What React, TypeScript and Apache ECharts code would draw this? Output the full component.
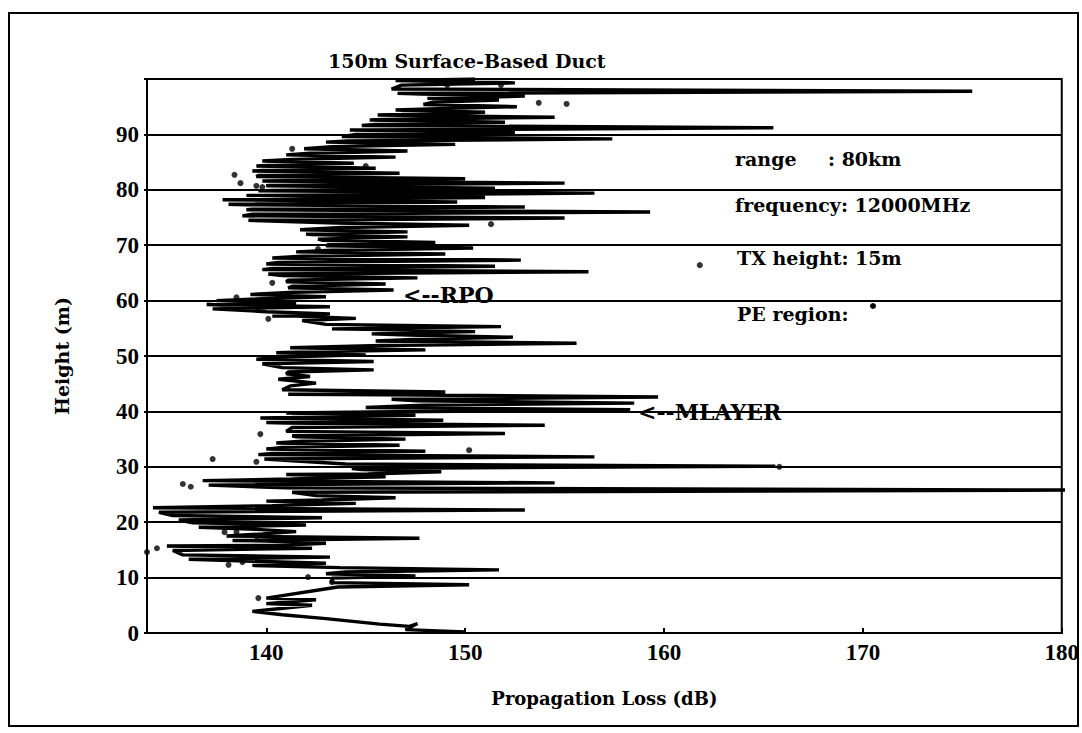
import React, { useEffect, useRef } from "react";
import * as echarts from "echarts";

// Propagation loss curve (dB) vs height (m), read top to bottom.
// Each row: base, tip, base of one needle-like null.
const curveLoss = [
  150.5,
  146.5, 152.5, 146.8,
  146.3, 175.5, 146.6,
  147.8, 153.0, 148.1,
  148.1, 151.7, 148.4,
  147.9, 152.6, 148.2,
  146.5, 151.0, 146.8,
  145.6, 154.5, 145.9,
  145.2, 152.0, 145.5,
  144.8, 165.5, 145.1,
  144.2, 152.5, 144.5,
  143.8, 157.4, 144.1,
  143.0, 149.5, 143.3,
  141.9, 147.1, 142.2,
  141.0, 146.5, 141.3,
  139.8, 144.4, 140.1,
  139.5, 145.5, 139.8,
  139.3, 146.7, 139.6,
  139.5, 150.0, 139.8,
  139.8, 155.0, 140.1,
  140.0, 151.5, 140.3,
  139.6, 156.5, 139.9,
  139.0, 151.0, 139.3,
  137.8, 149.6, 138.1,
  139.0, 153.0, 139.3,
  139.0, 159.3, 139.3,
  138.8, 155.0, 139.1,
  143.5, 150.2, 143.8,
  141.7, 147.1, 142.0,
  142.3, 147.1, 142.6,
  142.8, 148.5, 143.1,
  143.0, 150.4, 143.3,
  141.5, 149.0, 141.8,
  140.3, 152.8, 140.6,
  140.0, 151.5, 140.3,
  139.8, 156.2, 140.1,
  140.8, 147.6, 141.1,
  141.0, 146.0, 141.3,
  141.1, 146.4, 141.4,
  139.2, 143.0, 139.5,
  137.5, 141.5, 137.8,
  137.0, 143.2, 137.3,
  140.0, 143.2, 140.3,
  141.5, 144.5, 141.8,
  143.0, 151.8, 143.3,
  145.0, 150.5, 145.3,
  147.1, 152.4, 147.4,
  145.5, 155.6, 145.8,
  141.2, 148.0, 141.5,
  140.5, 145.0, 140.8,
  139.5, 145.4, 139.8,
  140.8, 145.4, 141.1,
  141.0, 142.2, 140.6, 142.5, 141.2,
  140.8, 149.0, 141.1,
  146.0, 159.7, 146.3,
  147.6, 158.5, 147.9,
  145.0, 158.3, 145.3,
  141.0, 147.5, 141.3,
  139.7, 148.9, 140.0,
  141.0, 154.0, 141.3,
  141.0, 152.0, 141.3,
  141.5, 147.0, 141.8,
  140.5, 146.7, 140.8,
  140.0, 148.0, 140.3,
  139.6, 156.5, 139.9,
  144.0, 165.6, 144.3,
  144.8, 148.8, 145.1,
  141.0, 146.0, 141.3,
  136.8, 154.5, 137.1,
  141.0, 182.0, 141.3,
  142.5, 146.5, 142.8,
  140.0, 144.5, 140.3,
  134.3, 153.0, 134.6,
  135.3, 142.8, 135.6,
  136.3, 142.0, 136.6,
  139.5, 141.5, 139.8,
  138.0, 147.7, 138.3,
  140.0, 143.0, 140.3,
  135.0, 142.3, 135.3,
  135.8, 143.2, 136.1,
  139.0, 143.0, 139.3,
  143.7, 151.7, 144.0,
  143.0, 147.5, 143.3,
  143.3, 150.2, 143.6,
  140.0, 142.5, 140.0, 142.3, 139.3, 140.8,
  143.0, 145.7, 147.2, 147.6, 147.0, 150.0,
];
const curveHeight = [
  100.0,
  99.7, 99.3, 98.9,
  98.2, 97.8, 97.4,
  97.3, 96.9, 96.5,
  96.6, 96.2, 95.8,
  95.4, 95.0, 94.6,
  94.4, 94.0, 93.6,
  93.5, 93.1, 92.7,
  92.6, 92.2, 91.8,
  91.6, 91.2, 90.8,
  90.8, 90.4, 90.0,
  89.6, 89.2, 88.8,
  88.6, 88.2, 87.8,
  87.4, 87.0, 86.6,
  86.3, 85.9, 85.5,
  85.2, 84.8, 84.4,
  84.3, 83.9, 83.5,
  83.4, 83.0, 82.6,
  82.4, 82.0, 81.6,
  81.6, 81.2, 80.8,
  80.7, 80.3, 79.9,
  79.8, 79.4, 79.0,
  79.0, 78.6, 78.2,
  78.2, 77.8, 77.4,
  77.3, 76.9, 76.5,
  76.4, 76.0, 75.6,
  75.3, 74.9, 74.5,
  74.0, 73.6, 73.2,
  72.8, 72.4, 72.0,
  71.9, 71.5, 71.1,
  70.9, 70.5, 70.1,
  69.9, 69.5, 69.1,
  68.8, 68.4, 68.0,
  67.7, 67.3, 66.9,
  66.6, 66.2, 65.8,
  65.6, 65.2, 64.8,
  64.5, 64.1, 63.7,
  63.4, 63.0, 62.6,
  62.3, 61.9, 61.5,
  61.1, 60.7, 60.3,
  60.0, 59.6, 59.2,
  59.3, 58.9, 58.5,
  58.0, 57.6, 57.2,
  57.2, 56.8, 56.4,
  55.7, 55.3, 54.9,
  54.8, 54.4, 54.0,
  53.8, 53.4, 53.0,
  52.7, 52.3, 51.9,
  51.5, 51.1, 50.7,
  50.6, 50.2, 49.8,
  49.4, 49.0, 48.6,
  47.9, 47.5, 47.1,
  46.8, 46.3, 45.8, 45.1, 44.6,
  43.9, 43.5, 43.1,
  43.0, 42.6, 42.2,
  41.9, 41.5, 41.1,
  40.7, 40.3, 39.9,
  39.7, 39.3, 38.9,
  38.8, 38.4, 38.0,
  37.9, 37.5, 37.1,
  36.4, 36.0, 35.6,
  35.4, 35.0, 34.6,
  34.3, 33.9, 33.5,
  33.2, 32.8, 32.4,
  32.2, 31.8, 31.4,
  30.5, 30.1, 29.7,
  29.5, 29.1, 28.7,
  28.6, 28.2, 27.8,
  27.5, 27.1, 26.7,
  26.2, 25.8, 25.4,
  24.8, 24.4, 24.0,
  23.8, 23.4, 23.0,
  22.6, 22.2, 21.8,
  21.2, 20.8, 20.4,
  19.9, 19.5, 19.1,
  18.7, 18.3, 17.9,
  17.5, 17.1, 16.7,
  16.6, 16.2, 15.8,
  15.7, 15.3, 14.9,
  14.1, 13.7, 13.3,
  13.0, 12.6, 12.2,
  11.8, 11.4, 11.0,
  10.7, 10.3, 9.9,
  9.1, 8.7, 8.3,
  6.3, 6.0, 5.3, 5.0, 3.9, 3.3,
  2.6, 1.6, 1.2, 1.7, 0.6, 0.2,
];

// PE region points
const dotLoss = [
  149.1, 151.8, 153.7, 155.1, 141.3, 145.0, 138.4, 138.7, 139.5, 139.8,
  151.3, 142.6, 161.8, 140.3, 138.5, 140.1, 139.7, 150.2, 137.3, 139.5,
  165.8, 135.8, 136.2, 137.9, 138.5, 139.5, 140.8, 134.0, 134.5, 138.1,
  138.8, 142.1, 143.3, 139.6,
];
const dotHeight = [
  98.9, 98.9, 95.7, 95.5, 87.4, 84.3, 82.7, 81.2, 80.7, 80.5,
  73.8, 69.3, 66.4, 63.2, 60.6, 56.7, 35.9, 33.0, 31.4, 30.9,
  30.0, 26.9, 26.4, 18.2, 18.2, 17.5, 17.0, 14.6, 15.3, 12.3,
  12.8, 10.1, 9.2, 6.3,
];

const xTicks = [140, 150, 160, 170, 180];

const titleText = "150m Surface-Based Duct";
const xName = "Propagation Loss (dB)";
const yName = "Height (m)";

export default function App() {
  const ref = useRef<HTMLDivElement>(null);
  useEffect(() => {
    if (!ref.current) return;
    const chart = echarts.init(ref.current, null, { renderer: "svg" });
    const tickFont = "'Liberation Serif', 'Times New Roman', serif";
    const textFont = "'DejaVu Serif', serif";
    const curve = curveLoss.map((v, i) => [v, curveHeight[i]]);
    const dots = dotLoss.map((v, i) => [v, dotHeight[i]]);
    chart.setOption({
      animation: false,
      backgroundColor: "#ffffff",
      title: {
        text: titleText,
        left: 323,
        top: 46,
        textStyle: { fontFamily: textFont, fontWeight: "bold", fontSize: 19, color: "#000" },
      },
      grid: {
        left: 147,
        top: 79,
        right: 19,
        bottom: 100,
        show: true,
        borderColor: "#000",
        borderWidth: 2,
      },
      xAxis: {
        type: "value",
        min: 134,
        max: 180,
        axisLine: { show: true, onZero: false, lineStyle: { color: "#000", width: 2 } },
        axisTick: { show: true, inside: true, length: 5, customValues: xTicks, lineStyle: { color: "#000", width: 2 } },
        axisLabel: {
          customValues: xTicks,
          color: "#000",
          fontFamily: tickFont,
          fontWeight: "bold",
          fontSize: 23,
          margin: 8,
        },
        splitLine: { show: false },
        name: xName,
        nameLocation: "middle",
        nameGap: 56,
        nameTextStyle: { fontFamily: textFont, fontWeight: "bold", fontSize: 18, color: "#000" },
      },
      yAxis: {
        type: "value",
        min: 0,
        max: 100,
        interval: 10,
        axisLine: { show: true, lineStyle: { color: "#000", width: 2 } },
        axisTick: { show: true, length: 3, lineStyle: { color: "#000", width: 2 } },
        axisLabel: {
          color: "#000",
          fontFamily: tickFont,
          fontWeight: "bold",
          fontSize: 23,
          margin: 8,
          formatter: (v: number) => (v === 100 ? "" : String(v)),
        },
        splitLine: { show: true, lineStyle: { color: "#000", width: 2 } },
        name: yName,
        nameLocation: "middle",
        nameGap: 76,
        nameTextStyle: { fontFamily: textFont, fontWeight: "bold", fontSize: 19, color: "#000" },
      },
      series: [
        {
          type: "line",
          data: curve,
          showSymbol: false,
          clip: true,
          lineStyle: { color: "#000", width: 3.4 },
        },
        {
          type: "scatter",
          data: dots,
          symbolSize: 6,
          itemStyle: { color: "#000" },
          clip: false,
        },
      ],
      graphic: [
        {
          type: "rect",
          silent: true,
          shape: { x: 9, y: 13, width: 1069, height: 713 },
          style: { fill: "none", stroke: "#000", lineWidth: 2 },
        },
        { type: "text", x: 735, y: 159, style: { text: "range", font: `bold 19px ${textFont}`, fill: "#000", verticalAlign: "middle" } },
        { type: "text", x: 828, y: 159, style: { text: ": 80km", font: `bold 19px ${textFont}`, fill: "#000", verticalAlign: "middle" } },
        { type: "text", x: 735, y: 205, style: { text: "frequency: 12000MHz", font: `bold 19px ${textFont}`, fill: "#000", verticalAlign: "middle" } },
        { type: "text", x: 737, y: 258, style: { text: "TX height: 15m", font: `bold 19px ${textFont}`, fill: "#000", verticalAlign: "middle" } },
        { type: "text", x: 737, y: 314, style: { text: "PE region:", font: `bold 19px ${textFont}`, fill: "#000", verticalAlign: "middle" } },
        { type: "circle", shape: { cx: 873, cy: 306, r: 3 }, style: { fill: "#000" } },
        { type: "text", x: 403, y: 295, style: { text: "<--RPO", font: `bold 22px ${textFont}`, fill: "#000", verticalAlign: "middle" } },
        { type: "text", x: 638, y: 412, style: { text: "<--MLAYER", font: `bold 22px ${textFont}`, fill: "#000", verticalAlign: "middle" } },
      ],
    });
    return () => chart.dispose();
  }, []);
  return (
    <div
      ref={ref}
      style={{ position: "absolute", left: 0, top: 0, width: 1082, height: 733, background: "#fff" }}
    />
  );
}
